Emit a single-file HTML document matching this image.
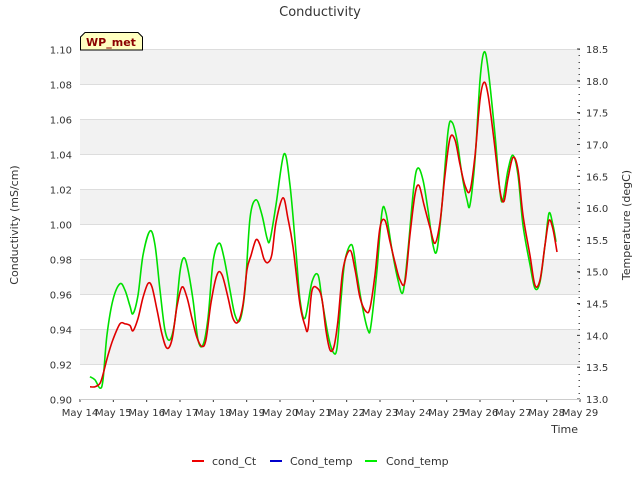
<!DOCTYPE html>
<html><head><meta charset="utf-8"><style>
body{margin:0;background:#fff;font-family:"DejaVu Sans","Liberation Sans",sans-serif}
</style></head><body>
<svg width="640" height="480" xmlns="http://www.w3.org/2000/svg" font-family="DejaVu Sans, Liberation Sans, sans-serif">
<rect width="640" height="480" fill="#fff"/>
<g id="bands"></g>
<g id="grid"></g>
<g id="series"></g>
<g id="axes"></g>
<text x="320" y="16" text-anchor="middle" font-size="13" fill="#333">Conductivity</text>
<text transform="translate(18,225) rotate(-90)" text-anchor="middle" font-size="11" fill="#333">Conductivity (mS/cm)</text>
<text transform="translate(630,225) rotate(-90)" text-anchor="middle" font-size="11" fill="#333">Temperature (degC)</text>
<text x="578" y="433" text-anchor="end" font-size="11" fill="#333">Time</text>
<g>
<path d="M80.5,50 L80.5,37 L85,32.5 L138,32.5 L142.5,37 L142.5,50 Z" fill="#ffffc0" stroke="#000" stroke-width="1"/>
<text x="111" y="46" text-anchor="middle" font-size="11" font-weight="bold" fill="#8b0000">WP_met</text>
</g>
<g>
<line x1="192" y1="461" x2="204" y2="461" stroke="#e00" stroke-width="2"/>
<text x="212" y="465" font-size="11" fill="#333">cond_Ct</text>
<line x1="270" y1="461" x2="282" y2="461" stroke="#00c" stroke-width="2"/>
<text x="290" y="465" font-size="11" fill="#333">Cond_temp</text>
<line x1="365" y1="461" x2="377" y2="461" stroke="#0e0" stroke-width="2"/>
<text x="386" y="465" font-size="11" fill="#333">Cond_temp</text>
</g>
</svg>
<script>
const xTickLabels=["May 14","May 15","May 16","May 17","May 18","May 19","May 20","May 21","May 22","May 23","May 24","May 25","May 26","May 27","May 28","May 29"];
const leftTicks=[0.90,0.92,0.94,0.96,0.98,1.00,1.02,1.04,1.06,1.08,1.10];
const rightTicks=[13.0,13.5,14.0,14.5,15.0,15.5,16.0,16.5,17.0,17.5,18.0,18.5];
const condDays=[0.30,0.45,0.60,0.69,0.84,0.99,1.20,1.35,1.50,1.59,1.74,1.89,2.04,2.16,2.31,2.46,2.61,2.76,2.91,3.06,3.21,3.36,3.51,3.66,3.78,3.93,4.11,4.26,4.44,4.59,4.74,4.89,5.01,5.13,5.28,5.40,5.52,5.64,5.76,5.88,6.09,6.24,6.39,6.60,6.75,6.84,6.96,7.14,7.26,7.38,7.50,7.62,7.74,7.89,8.10,8.25,8.40,8.58,8.70,8.85,9.00,9.15,9.30,9.45,9.60,9.75,9.90,10.05,10.17,10.32,10.50,10.65,10.80,10.95,11.10,11.25,11.40,11.55,11.70,11.85,12.00,12.12,12.24,12.42,12.60,12.72,12.84,12.99,13.14,13.29,13.50,13.65,13.80,13.95,14.07,14.19,14.31];
const condCt=[0.907,0.907,0.909,0.914,0.925,0.934,0.943,0.943,0.942,0.939,0.946,0.958,0.966,0.964,0.951,0.937,0.929,0.934,0.953,0.964,0.958,0.946,0.935,0.930,0.934,0.955,0.971,0.971,0.958,0.946,0.944,0.954,0.974,0.982,0.991,0.988,0.980,0.978,0.983,1.001,1.015,1.003,0.987,0.954,0.942,0.940,0.962,0.963,0.957,0.939,0.928,0.930,0.945,0.974,0.985,0.974,0.958,0.950,0.952,0.971,0.998,1.002,0.990,0.978,0.968,0.967,0.994,1.017,1.022,1.011,0.998,0.989,1.001,1.028,1.049,1.048,1.034,1.022,1.019,1.039,1.071,1.081,1.074,1.048,1.019,1.013,1.026,1.038,1.031,1.005,0.982,0.965,0.968,0.988,1.002,0.997,0.984];
const tempDays=[0.30,0.45,0.60,0.69,0.81,0.99,1.20,1.35,1.50,1.59,1.74,1.89,2.10,2.25,2.40,2.55,2.70,2.85,3.00,3.12,3.24,3.39,3.54,3.69,3.84,3.99,4.17,4.32,4.50,4.65,4.80,4.95,5.10,5.28,5.46,5.61,5.70,5.88,6.12,6.30,6.48,6.60,6.75,6.96,7.14,7.26,7.44,7.59,7.71,7.83,7.95,8.16,8.31,8.46,8.64,8.73,8.91,9.06,9.18,9.36,9.54,9.69,9.84,10.02,10.14,10.29,10.44,10.59,10.71,10.86,11.04,11.16,11.31,11.46,11.61,11.70,11.85,12.00,12.12,12.24,12.45,12.60,12.69,12.84,12.99,13.14,13.29,13.50,13.65,13.80,13.95,14.07,14.19,14.28];
const condTemp=[13.35,13.30,13.17,13.30,14.01,14.56,14.81,14.71,14.46,14.34,14.63,15.26,15.64,15.42,14.71,14.08,13.93,14.24,15.00,15.22,15.03,14.56,13.93,13.85,14.27,15.15,15.45,15.22,14.71,14.32,14.24,14.71,15.84,16.13,15.89,15.53,15.50,16.05,16.85,16.36,15.31,14.56,14.27,14.84,14.95,14.56,14.01,13.74,13.80,14.56,15.18,15.42,14.95,14.48,14.08,14.16,15.03,15.94,15.92,15.34,14.87,14.68,15.34,16.36,16.63,16.44,15.97,15.42,15.34,16.05,17.20,17.35,17.07,16.52,16.13,16.05,16.76,18.01,18.45,18.20,17.15,16.25,16.13,16.60,16.83,16.52,15.73,15.11,14.74,14.84,15.42,15.92,15.73,15.47];
const NS="http://www.w3.org/2000/svg";
const L=80,R=580,T=49,B=399;
const xS=d=>L+(R-L)*d/15;
const yL=v=>B-(v-0.90)/(0.20)*(B-T);
const yR=v=>B-(v-13)/(5.5)*(B-T);
function mk(tag,attrs,parent){const e=document.createElementNS(NS,tag);for(const k in attrs)e.setAttribute(k,attrs[k]);parent.appendChild(e);return e;}
const bands=document.getElementById('bands'),grid=document.getElementById('grid'),axes=document.getElementById('axes'),series=document.getElementById('series');
for(let i=0;i<leftTicks.length-1;i++){
  if(i%2===1){const r=mk('rect',{x:L,y:yL(leftTicks[i+1]),width:R-L,height:yL(leftTicks[i])-yL(leftTicks[i+1]),fill:'#f2f2f2'},bands);
  
  }
}
leftTicks.forEach(v=>{
  const y=Math.round(yL(v))+0.5;
  const g=mk('line',{x1:L,x2:R,y1:y,y2:y,stroke:'#ddd','stroke-width':1},grid);
  
  
  const t=mk('text',{x:L-8,y:y+4,'text-anchor':'end','font-size':10,fill:'#333'},axes);
  
  
  t.textContent=v.toFixed(2);
});
rightTicks.forEach(v=>{
  const y=yR(v);
  const t=mk('text',{x:R+6,y:y+4,'font-size':10,fill:'#333'},axes);
  
  
  t.textContent=v.toFixed(1);
  mk('line',{x1:R-3,x2:R,y1:y,y2:y,stroke:'#333'},axes);
});
for(let v=13.0;v<=18.5001;v+=0.1){const y=Math.round(yR(v))+0.5;mk('line',{x1:R-1.5,x2:R,y1:y,y2:y,stroke:'#555'},axes);}
xTickLabels.forEach((s,i)=>{
  const x=xS(i);
  const t=mk('text',{x:x,y:416,'text-anchor':'middle','font-size':10,fill:'#333'},axes);
  
  
  t.textContent=s;
  mk('line',{x1:x,x2:x,y1:B,y2:B+3,stroke:'#333'},axes);
});
mk('line',{x1:L,x2:R,y1:B+0.5,y2:B+0.5,stroke:'#ccc'},axes);
function line(days,vals,ys,color,name){
  const P=days.map((t,i)=>[xS(t),ys(vals[i])]);
  let d='M'+P[0][0].toFixed(1)+','+P[0][1].toFixed(1);
  for(let i=0;i<P.length-1;i++){
    const p0=P[Math.max(0,i-1)],p1=P[i],p2=P[i+1],p3=P[Math.min(P.length-1,i+2)];
    const c1x=p1[0]+(p2[0]-p0[0])/6,c1y=p1[1]+(p2[1]-p0[1])/6;
    const c2x=p2[0]-(p3[0]-p1[0])/6,c2y=p2[1]-(p3[1]-p1[1])/6;
    d+=' C'+c1x.toFixed(1)+','+c1y.toFixed(1)+' '+c2x.toFixed(1)+','+c2y.toFixed(1)+' '+p2[0].toFixed(1)+','+p2[1].toFixed(1);
  }
  const p=mk('path',{d:d,fill:'none',stroke:color,'stroke-width':1.6,'stroke-linejoin':'round'},series);
  
  
}
line(tempDays,condTemp,yR,'#00e000','cond-temp-line');
line(condDays,condCt,yL,'#e00000','cond-ct-line');
</script>
</body></html>
